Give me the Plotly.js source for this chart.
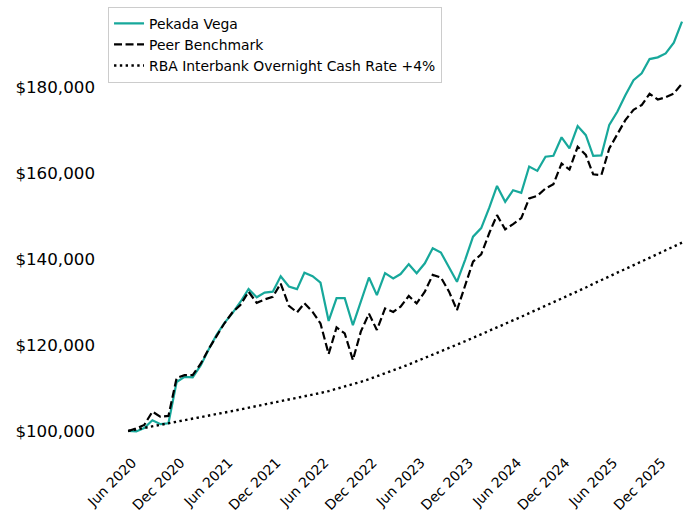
<!DOCTYPE html>
<html>
<head>
<meta charset="utf-8">
<script src="https://cdn.plot.ly/plotly-3.0.1.min.js"></script>
<style>html,body{margin:0;padding:0;background:#fff;}#chart{width:687px;height:514px;}</style>
</head>
<body>
<div id="chart"></div>
<script>
const months = [
 '2020-05-01','2020-06-01','2020-07-01','2020-08-01','2020-09-01','2020-10-01','2020-11-01','2020-12-01',
 '2021-01-01','2021-02-01','2021-03-01','2021-04-01','2021-05-01','2021-06-01','2021-07-01','2021-08-01','2021-09-01','2021-10-01','2021-11-01','2021-12-01',
 '2022-01-01','2022-02-01','2022-03-01','2022-04-01','2022-05-01','2022-06-01','2022-07-01','2022-08-01','2022-09-01','2022-10-01','2022-11-01','2022-12-01',
 '2023-01-01','2023-02-01','2023-03-01','2023-04-01','2023-05-01','2023-06-01','2023-07-01','2023-08-01','2023-09-01','2023-10-01','2023-11-01','2023-12-01',
 '2024-01-01','2024-02-01','2024-03-01','2024-04-01','2024-05-01','2024-06-01','2024-07-01','2024-08-01','2024-09-01','2024-10-01','2024-11-01','2024-12-01',
 '2025-01-01','2025-02-01','2025-03-01','2025-04-01','2025-05-01','2025-06-01','2025-07-01','2025-08-01','2025-09-01','2025-10-01','2025-11-01','2025-12-01',
 '2026-01-01','2026-02-01'
];

const pekadaVega = [
 100000, 99900, 100700, 102500, 101600, 101800, 111400, 112600,
 112500, 115300, 118800, 122300, 125100, 127400, 130000, 133000, 131100, 132200, 132400, 136000,
 133600, 133000, 136800, 136000, 134500, 125600, 130900, 130900, 124600, 130000, 135700, 131600,
 136700, 135500, 136500, 138800, 136700, 139000, 142500, 141500, 138200, 134700, 139800, 145200,
 147200, 152000, 157000, 153300, 156000, 155400, 161500, 160500, 163800, 164000, 168300, 165700,
 170900, 168800, 164000, 164100, 171200, 174300, 178100, 181600, 183200, 186500, 186900, 187800,
 190300, 195200
];

const peerBenchmark = [
 100000, 100600, 101400, 104500, 103300, 103500, 112300, 113000,
 113000, 115700, 118900, 122000, 125000, 127600, 129300, 132400, 129800, 130600, 131200, 134300,
 129100, 127600, 129700, 127700, 125000, 117900, 124100, 122700, 116500, 123100, 127300, 123500,
 128500, 127700, 128900, 131400, 129700, 132400, 136300, 135700, 132400, 128100, 133600, 139400,
 141100, 146100, 150200, 146900, 148100, 149500, 154100, 154700, 156400, 157400, 162200, 160800,
 166100, 164200, 159700, 159500, 165700, 169200, 172300, 174700, 175800, 178400, 177100, 177600,
 178500, 180800
];

const rbaPlus4 = [
 100000, 100350, 100701, 101054, 101407, 101762, 102118, 102476,
 102835, 103195, 103556, 103918, 104282, 104647, 105013, 105381, 105750, 106120, 106491, 106864,
 107238, 107613, 107990, 108400, 108834, 109291, 109783, 110310, 110861, 111438, 112051, 112690,
 113354, 114035, 114742, 115465, 116204, 116959, 117731, 118508, 119290, 120077, 120870, 121668,
 122471, 123279, 124093, 124912, 125736, 126566, 127401, 128242, 129089, 129941, 130798, 131648,
 132504, 133365, 134219, 135078, 135942, 136812, 137674, 138541, 139414, 140292, 141162, 142037,
 142918, 143804
];

const xTickVals = ['2020-06-01','2020-12-01','2021-06-01','2021-12-01','2022-06-01','2022-12-01',
 '2023-06-01','2023-12-01','2024-06-01','2024-12-01','2025-06-01','2025-12-01'];
const xTickText = ['Jun 2020','Dec 2020','Jun 2021','Dec 2021','Jun 2022','Dec 2022',
 'Jun 2023','Dec 2023','Jun 2024','Dec 2024','Jun 2025','Dec 2025'];
const yTickVals = [100000, 120000, 140000, 160000, 180000];
const yTickText = ['$100,000','$120,000','$140,000','$160,000','$180,000'];

const traces = [
 {x: months, y: pekadaVega, name: 'Pekada Vega', type: 'scatter', mode: 'lines',
  line: {color: '#17a89b', width: 2.2}},
 {x: months, y: peerBenchmark, name: 'Peer Benchmark', type: 'scatter', mode: 'lines',
  line: {color: '#000000', width: 2.2, dash: '8px,3.5px'}},
 {x: months, y: rbaPlus4, name: 'RBA Interbank Overnight Cash Rate +4%', type: 'scatter', mode: 'lines',
  line: {color: '#000000', width: 2.4, dash: '2.4px,3.4px'}}
];

const layout = {
 width: 687, height: 514,
 margin: {l: 101, r: 0, t: 0, b: 63, pad: 0},
 paper_bgcolor: '#ffffff', plot_bgcolor: '#ffffff',
 font: {family: 'DejaVu Sans', color: '#000000'},
 showlegend: true,
 xaxis: {
  type: 'date', range: ['2020-01-19', '2026-02-20'],
  showgrid: false, zeroline: false, showline: false, ticks: '',
  tickmode: 'array', tickvals: xTickVals, ticktext: xTickText,
  tickangle: -45, ticklabelstandoff: 0, ticklabelshift: -4,
  tickfont: {family: 'DejaVu Sans', size: 13.9, color: '#000000'}
 },
 yaxis: {
  range: [95349, 200233],
  showgrid: false, zeroline: false, showline: false, ticks: '',
  tickmode: 'array', tickvals: yTickVals, ticktext: yTickText,
  ticklabelstandoff: 5,
  tickfont: {family: 'DejaVu Sans', size: 16.7, color: '#000000'}
 },
 legend: {
  x: 0.012, y: 0.985, xanchor: 'left', yanchor: 'top',
  bgcolor: 'rgba(255,255,255,0.8)', bordercolor: '#cccccc', borderwidth: 1,
  font: {family: 'DejaVu Sans', size: 13.9, color: '#000000'}
 }
};

Plotly.newPlot('chart', traces, layout, {staticPlot: true, displayModeBar: false});
</script>
</body>
</html>
